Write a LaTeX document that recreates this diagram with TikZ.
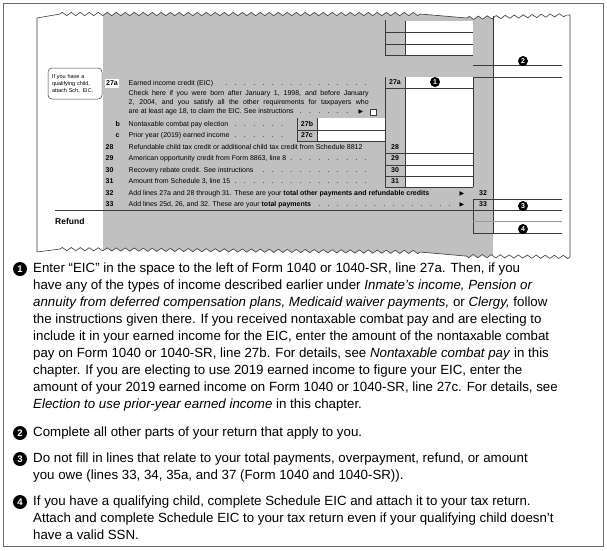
\documentclass[tikz,border=0pt]{standalone}
\usepackage{fontspec}
\setmainfont{Liberation Sans}
\newfontfamily\symfont{DejaVu Sans}
\usetikzlibrary{decorations.pathmorphing}
\definecolor{formgray}{HTML}{C0C0C0}
\definecolor{edgecol}{HTML}{3A3A3A}
\definecolor{framecol}{HTML}{6A6A6A}
\definecolor{softline}{HTML}{9A9A9A}
\newcommand\dotlead{\leaders\hbox to 9.3pt{\hss.\hss}\hskip 0pt plus 1fill\relax}
\newcommand\fsz{\fontsize{7.0}{8}\selectfont}
\newcommand\psz{\fontsize{13.3}{17}\selectfont}
\newcommand\tri{{\symfont\fontsize{6}{6}\selectfont ▶}}
\begin{document}
\begin{tikzpicture}[x=1pt,y=-1pt,
  ftxt/.style={anchor=west,inner sep=0pt,font=\fsz,text height=5.1pt,text depth=1.5pt},
  lnum/.style={anchor=west,inner sep=0pt,font=\fsz\bfseries,text height=5.1pt,text depth=1.5pt},
  boxnum/.style={anchor=center,inner sep=0pt,font=\fsz\bfseries,text height=5.1pt,text depth=1.5pt},
  fline/.style={draw=edgecol,line width=0.6pt},
  badge/.style={circle,fill=black,text=white,inner sep=0pt,minimum size=10pt,font=\fontsize{7}{7}\selectfont\bfseries},
  bigbadge/.style={circle,fill=black,text=white,inner sep=0pt,minimum size=14pt,font=\fontsize{9.5}{9.5}\selectfont\bfseries},
  pl/.style={anchor=west,inner sep=0pt,font=\psz,text height=9.6pt,text depth=2.8pt},
  tear/.style={decoration={zigzag,segment length=9pt,amplitude=1.6pt}},
]
\useasboundingbox (0,0) rectangle (607,550);
\draw[framecol,line width=0.9pt] (3.5,3.5) rectangle (603.5,546.5);

\def\tearpath{(37,18) -- (60,14) decorate{ -- (420,14)} -- (467,18) decorate{ -- (570,15)} -- (570,257) decorate{ -- (465,256)} -- (420,252) decorate{ -- (60,249)} -- (37,252) -- cycle}
\fill[white,tear] \tearpath;
\begin{scope}
  \clip[tear] \tearpath;
  \fill[formgray] (103,0) rectangle (493,300);
\end{scope}

% white boxes
\fill[white] (405,21) rectangle (473,55);
\fill[white] (405,77) rectangle (473,187);
\fill[white] (317,118) rectangle (385,141);

% grid lines
\draw[fline] (385,20) -- (385,55) (405,21) -- (405,55);
\draw[fline] (385,32) -- (473,32) (385,44) -- (473,44) (385,55) -- (473,55);
\draw[fline] (473,65.7) -- (562,65.7) (473,77) -- (562,77);
\draw[fline] (385,77) -- (385,187) (405,77) -- (405,187) (473,77) -- (473,187);
\draw[fline] (385,88) -- (473,88) (385,153) -- (473,153) (385,165) -- (473,165) (385,176) -- (473,176) (385,187) -- (473,187);
\draw[fline] (297,118) -- (297,141) (317,118) -- (317,141) (297,130) -- (385,130) (297,141) -- (385,141);
\draw[fline] (493,16) -- (493,233);
\draw[fline] (473,199) -- (562,199) (55,210) -- (562,210) (473,233) -- (562,233) (473,199) -- (473,233);
\draw[softline,line width=1pt] (473,221.7) -- (562,221.7);

% torn edge outline
\draw[edgecol,line width=0.6pt,tear] \tearpath;

% callout
\node[draw=edgecol,line width=0.5pt,rounded corners=4pt,fill=white,text width=46pt,inner sep=4pt,minimum height=31pt,align=left,font=\fontsize{5.5}{7}\selectfont] (callout) at (75,83.5) {If you have a\\qualifying child,\\attach Sch. EIC.};
\node[fill=white,inner sep=1.2pt,font=\fsz\bfseries,text height=5.1pt,text depth=1.5pt] (l27a) at (112,83.5) {27a};

% form rows
\node[ftxt] (t27a) at (128.5,83.5) {\hbox to 249pt{Earned income credit (EIC)\dotlead}};
\node[ftxt] (chk1) at (128.5,94) {\hbox to 240pt{Check here if you were born after January 1, 1998, and before January}};
\node[ftxt] (chk2) at (128.5,103) {\hbox to 240pt{2, 2004, and you satisfy all the other requirements for taxpayers who}};
\node[ftxt] (chk3) at (128.5,112) {\hbox to 227pt{are at least age 18, to claim the EIC. See instructions\dotlead}};
\node[inner sep=0pt] (tri1) at (361,112) {\tri};
\node[draw=edgecol,line width=0.5pt,fill=white,minimum size=6.5pt,inner sep=0pt] (chkbox) at (373,112) {};

\node[lnum] (lb) at (115.5,124.5) {b};
\node[ftxt] (tb) at (128.5,124.5) {\hbox to 161pt{Nontaxable combat pay election\dotlead}};
\node[lnum] (lc) at (115.5,136) {c};
\node[ftxt] (tc) at (128.5,136) {\hbox to 161pt{Prior year (2019) earned income\dotlead}};
\node[boxnum] (b27b) at (307,124.5) {27b};
\node[boxnum] (b27c) at (307,136) {27c};

\node[lnum] (l28) at (105.5,148) {28};
\node[ftxt] (t28) at (128.5,148) {Refundable child tax credit or additional child tax credit from Schedule 8812};
\node[lnum] (l29) at (105.5,159) {29};
\node[ftxt] (t29) at (128.5,159) {\hbox to 250pt{American opportunity credit from Form 8863, line 8\dotlead}};
\node[lnum] (l30) at (105.5,171) {30};
\node[ftxt] (t30) at (128.5,171) {\hbox to 250pt{Recovery rebate credit. See instructions\dotlead}};
\node[lnum] (l31) at (105.5,182) {31};
\node[ftxt] (t31) at (128.5,182) {\hbox to 250pt{Amount from Schedule 3, line 15\dotlead}};
\node[lnum] (l32) at (105.5,194) {32};
\node[ftxt] (t32) at (128.5,194) {Add lines 27a and 28 through 31. These are your \textbf{total other payments and refundable credits}};
\node[inner sep=0pt] (tri32) at (462,193.5) {\tri};
\node[lnum] (l33) at (105.5,205) {33};
\node[ftxt] (t33) at (128.5,205) {\hbox to 328pt{Add lines 25d, 26, and 32. These are your \textbf{total payments}\dotlead}};
\node[inner sep=0pt] (tri33) at (462,204.5) {\tri};

\node[boxnum] (r27a) at (395,82.5) {27a};
\node[boxnum] (r28) at (395,148) {28};
\node[boxnum] (r29) at (395,159) {29};
\node[boxnum] (r30) at (395,171) {30};
\node[boxnum] (r31) at (395,182) {31};
\node[boxnum] (r32) at (483,194) {32};
\node[boxnum] (r33) at (483,205) {33};

\node[anchor=west,inner sep=0pt,font=\fontsize{8.5}{9}\selectfont\bfseries] (refund) at (55,221.5) {Refund};

% form badges
\node[badge] (f1) at (435,82) {1};
\node[badge] (f2) at (523,61) {2};
\node[badge] (f3) at (523,206) {3};
\node[badge] (f4) at (523,229) {4};

% explanation
\node[bigbadge] (p1) at (20,269) {1};
\node[pl] (a1) at (33,269) {Enter “EIC” in the space to the left of Form 1040 or 1040-SR, line 27a. Then, if you};
\node[pl] (a2) at (33,286) {have any of the types of income described earlier under \textit{Inmate’s income, Pension or}};
\node[pl] (a3) at (33,303) {\textit{annuity from deferred compensation plans, Medicaid waiver payments,} or \textit{Clergy,} follow};
\node[pl] (a4) at (33,320) {the instructions given there. If you received nontaxable combat pay and are electing to};
\node[pl] (a5) at (33,337) {include it in your earned income for the EIC, enter the amount of the nontaxable combat};
\node[pl] (a6) at (33,354) {pay on Form 1040 or 1040-SR, line 27b. For details, see \textit{Nontaxable combat pay} in this};
\node[pl] (a7) at (33,371) {chapter. If you are electing to use 2019 earned income to figure your EIC, enter the};
\node[pl] (a8) at (33,388) {amount of your 2019 earned income on Form 1040 or 1040-SR, line 27c. For details, see};
\node[pl] (a9) at (33,405) {\textit{Election to use prior-year earned income} in this chapter.};

\node[bigbadge] (p2) at (20,433) {2};
\node[pl] (b1) at (33,433) {Complete all other parts of your return that apply to you.};

\node[bigbadge] (p3) at (20,459) {3};
\node[pl] (c1) at (33,459) {Do not fill in lines that relate to your total payments, overpayment, refund, or amount};
\node[pl] (c2) at (33,476) {you owe (lines 33, 34, 35a, and 37 (Form 1040 and 1040-SR)).};

\node[bigbadge] (p4) at (20,502) {4};
\node[pl] (d1) at (33,502) {If you have a qualifying child, complete Schedule EIC and attach it to your tax return.};
\node[pl] (d2) at (33,519) {Attach and complete Schedule EIC to your tax return even if your qualifying child doesn’t};
\node[pl] (d3) at (33,536) {have a valid SSN.};
\end{tikzpicture}
\end{document}
